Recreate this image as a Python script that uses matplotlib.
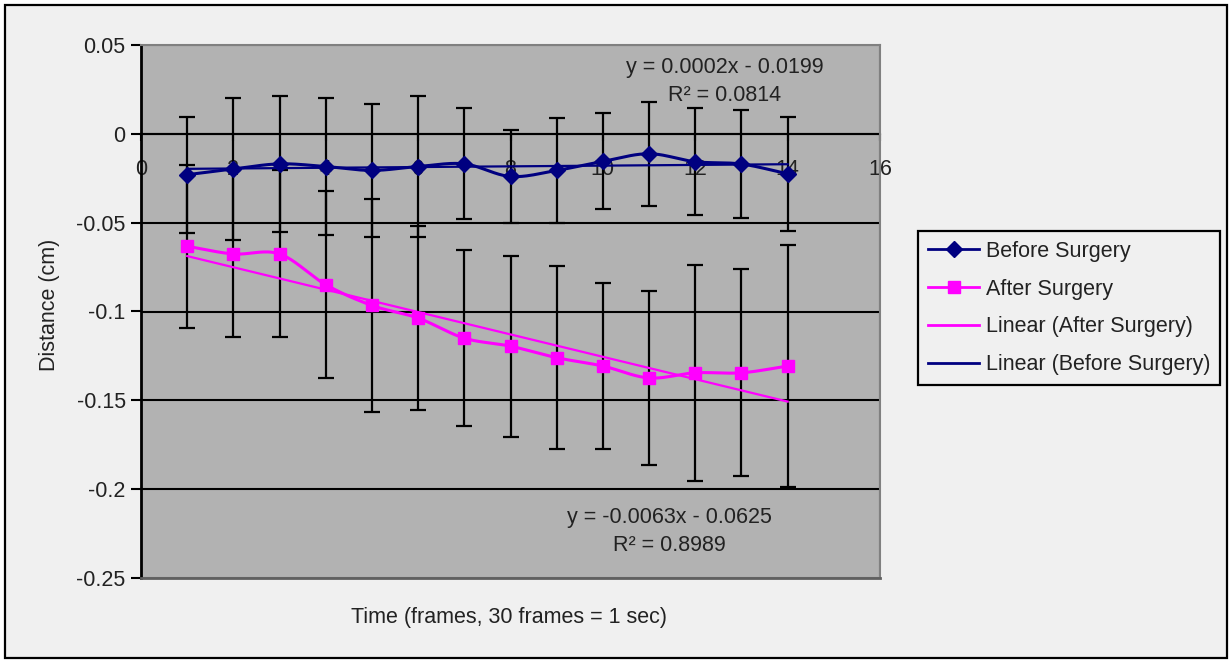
import numpy as np
import matplotlib
matplotlib.use("Agg")
import matplotlib.pyplot as plt
from matplotlib.lines import Line2D
from matplotlib.patches import Rectangle

plt.rcParams["font.family"] = ["Liberation Sans", "DejaVu Sans"]

# data
frames = [1, 2, 3, 4, 5, 6, 7, 8, 9, 10, 11, 12, 13, 14]
before = [-0.0230, -0.0198, -0.0169, -0.0184, -0.0206, -0.0184, -0.0169,
          -0.0240, -0.0206, -0.0155, -0.0112, -0.0157, -0.0170, -0.0225]
before_err = [0.0327, 0.0400, 0.0382, 0.0384, 0.0375, 0.0397, 0.0313,
              0.0262, 0.0294, 0.0270, 0.0293, 0.0301, 0.0305, 0.0320]
after = [-0.0633, -0.0676, -0.0676, -0.0849, -0.0966, -0.1037, -0.1150,
         -0.1195, -0.1260, -0.1307, -0.1374, -0.1345, -0.1345, -0.1307]
after_err = [0.0460, 0.0470, 0.0470, 0.0526, 0.0600, 0.0520, 0.0495,
             0.0510, 0.0516, 0.0466, 0.0489, 0.0607, 0.0583, 0.0680]

# Excel trendline coefficients (slope, intercept) and labels
before_fit = (0.0002, -0.0199)
after_fit = (-0.0063, -0.0625)
before_label = "y = 0.0002x - 0.0199\nR² = 0.0814"
after_label = "y = -0.0063x - 0.0625\nR² = 0.8989"

NAVY = "#000080"
PINK = "#ff00ff"
TXT = "#222222"
FS = 15.5


def smooth(x, y, n=20):
    """Catmull-Rom curve through the points, like Excel's smoothed line."""
    x = np.asarray(x, float)
    y = np.asarray(y, float)
    px = np.concatenate([[2 * x[0] - x[1]], x, [2 * x[-1] - x[-2]]])
    py = np.concatenate([[2 * y[0] - y[1]], y, [2 * y[-1] - y[-2]]])
    t = np.linspace(0, 1, n, endpoint=False)
    xs, ys = [], []
    for i in range(1, len(px) - 2):
        for p, out in ((px, xs), (py, ys)):
            p0, p1, p2, p3 = p[i - 1], p[i], p[i + 1], p[i + 2]
            out.extend(0.5 * (2 * p1 + (-p0 + p2) * t
                              + (2 * p0 - 5 * p1 + 4 * p2 - p3) * t ** 2
                              + (-p0 + 3 * p1 - 3 * p2 + p3) * t ** 3))
    xs.append(x[-1])
    ys.append(y[-1])
    return xs, ys


fig = plt.figure(figsize=(12.29, 6.60), dpi=100, facecolor="white")
fig.patches.append(Rectangle((5 / 1229, 2 / 660), 1222 / 1229, 653 / 660,
                             transform=fig.transFigure, facecolor="#f0f0f0",
                             edgecolor="black", linewidth=1.6, zorder=-10))
ax = fig.add_axes([141 / 1229, 82 / 660, 739 / 1229, 533 / 660])
ax.set_facecolor("#b2b2b2")

for yv in np.arange(-0.2, 0.01, 0.05):
    ax.axhline(yv, color="black", lw=1.5, zorder=1)

ax.errorbar(frames, before, yerr=before_err, fmt="none", ecolor="black",
            elinewidth=1.6, capsize=5.5, capthick=1.6, zorder=2)
ax.errorbar(frames, after, yerr=after_err, fmt="none", ecolor="black",
            elinewidth=1.6, capsize=5.5, capthick=1.6, zorder=2)

xs = np.array([frames[0], frames[-1]], float)
ax.plot(xs, before_fit[0] * xs + before_fit[1], color=NAVY, lw=1.6, zorder=3)
ax.plot(xs, after_fit[0] * xs + after_fit[1], color=PINK, lw=1.6, zorder=3)

sx, sy = smooth(frames, before)
ax.plot(sx, sy, color=NAVY, lw=2.2, zorder=4)
ax.plot(frames, before, ls="none", marker="D", ms=8.5, color=NAVY, zorder=5)
sx, sy = smooth(frames, after)
ax.plot(sx, sy, color=PINK, lw=2.2, zorder=4)
ax.plot(frames, after, ls="none", marker="s", ms=8.5, color=PINK, zorder=5)

ax.set_xlim(0, 16)
ax.set_ylim(-0.25, 0.05)
ax.set_xticks(range(0, 17, 2))
ax.set_yticks([0.05, 0, -0.05, -0.1, -0.15, -0.2, -0.25])
ax.set_yticklabels(["0.05", "0", "-0.05", "-0.1", "-0.15", "-0.2", "-0.25"])

ax.spines["bottom"].set_position(("data", 0))
ax.spines["bottom"].set_linewidth(1.5)
ax.spines["bottom"].set_zorder(1.5)
ax.spines["left"].set_linewidth(2)
for side in ("top", "right"):
    ax.spines[side].set_color("#808080")
    ax.spines[side].set_linewidth(1.5)
ax.add_patch(Rectangle((0, 0), 1, 1, transform=ax.transAxes, fill=False,
                       edgecolor="#808080", lw=1.5, zorder=0.5))
ax.plot([0, 1], [0, 0], transform=ax.transAxes, color="#606060", lw=2,
        clip_on=False, zorder=6)

ax.tick_params(axis="x", direction="out", length=5, width=1.5, pad=13,
               labelsize=FS, labelcolor=TXT)
ax.tick_params(axis="y", direction="out", length=7, width=1.5, pad=4,
               labelsize=FS, labelcolor=TXT)

ax.text(12.64, 0.0293, before_label, ha="center", va="center", fontsize=FS,
        color=TXT, linespacing=1.45)
ax.text(11.45, -0.2237, after_label, ha="center", va="center", fontsize=FS,
        color=TXT, linespacing=1.45)

fig.text(509 / 1229, 1 - 617 / 660, "Time (frames, 30 frames = 1 sec)",
         ha="center", va="center", fontsize=FS, color=TXT)
fig.text(49 / 1229, 1 - 305 / 660, "Distance (cm)", rotation=90,
         ha="center", va="center", fontsize=FS, color=TXT)

handles = [
    Line2D([], [], color=NAVY, lw=2, marker="D", ms=8.5),
    Line2D([], [], color=PINK, lw=2, marker="s", ms=8.5),
    Line2D([], [], color=PINK, lw=2),
    Line2D([], [], color=NAVY, lw=2),
]
labels = ["Before Surgery", "After Surgery", "Linear (After Surgery)",
          "Linear (Before Surgery)"]
leg = fig.legend(handles, labels, loc="center left",
                 bbox_to_anchor=(918 / 1229, 1 - 308 / 660), fontsize=FS,
                 frameon=True, fancybox=False, edgecolor="black",
                 facecolor="#f0f0f0", framealpha=1, handlelength=2.4,
                 handletextpad=0.3, borderpad=0.45, labelspacing=0.78,
                 borderaxespad=0)
leg.get_frame().set_linewidth(1.6)
for t in leg.get_texts():
    t.set_color(TXT)

fig.savefig("out.png", dpi=100, facecolor=fig.get_facecolor())
